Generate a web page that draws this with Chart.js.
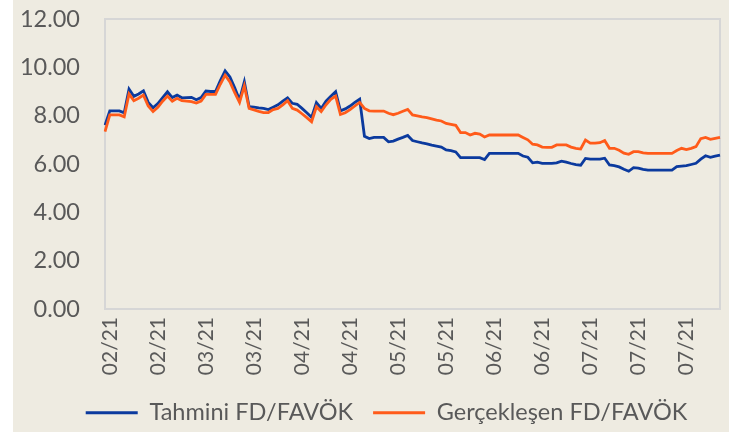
<!DOCTYPE html>
<html>
<head>
<meta charset="utf-8">
<script src="https://cdn.jsdelivr.net/npm/chart.js"></script>
<style>
  html, body { margin: 0; padding: 0; background: #fff; }
  #wrap { width: 746px; height: 432px; position: relative; }
</style>
</head>
<body>
<div id="wrap"><canvas id="oranChart" width="746" height="432"></canvas></div>
<script>
// x ekseni etiketleri (her 10 noktada bir)
const tickLabels = ['02/21', '02/21', '03/21', '03/21', '04/21', '04/21', '05/21',
  '05/21', '06/21', '06/21', '07/21', '07/21', '07/21'];

// Tahmini FD/FAVÖK
const tahmini = [
  7.61, 8.2, 8.2, 8.2, 8.12, 9.1, 8.8, 8.9, 9.03, 8.55,
  8.33, 8.5, 8.75, 8.99, 8.75, 8.85, 8.74, 8.75, 8.76, 8.66,
  8.75, 9.02, 9.0, 9.0, 9.45, 9.85, 9.6, 9.15, 8.65, 9.4,
  8.37, 8.35, 8.32, 8.3, 8.25, 8.35, 8.45, 8.6, 8.74, 8.51,
  8.47, 8.3, 8.12, 7.93, 8.54, 8.3, 8.6, 8.8, 8.99, 8.2,
  8.28, 8.4, 8.55, 8.68, 7.15, 7.05, 7.1, 7.1, 7.1, 6.92,
  6.95, 7.03, 7.1, 7.18, 6.97, 6.92, 6.87, 6.83, 6.78, 6.74,
  6.7, 6.58, 6.55, 6.5, 6.26, 6.26, 6.26, 6.26, 6.26, 6.18,
  6.44, 6.44, 6.44, 6.44, 6.44, 6.44, 6.44, 6.33, 6.28, 6.05,
  6.08, 6.03, 6.03, 6.03, 6.05, 6.12, 6.08, 6.02, 5.97, 5.95,
  6.23, 6.2, 6.2, 6.2, 6.24, 5.96, 5.93, 5.88, 5.78, 5.7,
  5.85, 5.83, 5.78, 5.75, 5.75, 5.75, 5.75, 5.75, 5.75, 5.89,
  5.91, 5.93, 5.98, 6.03, 6.2, 6.34, 6.28, 6.33, 6.37
];

// Gerçekleşen FD/FAVÖK
const gerceklesen = [
  7.34, 8.03, 8.03, 8.03, 7.95, 8.9, 8.62, 8.72, 8.85, 8.4,
  8.17, 8.35, 8.6, 8.81, 8.6, 8.72, 8.62, 8.6, 8.58, 8.52,
  8.6, 8.88, 8.88, 8.88, 9.3, 9.68, 9.4, 8.95, 8.55, 9.23,
  8.3, 8.24, 8.18, 8.13, 8.13, 8.25, 8.3, 8.45, 8.62, 8.3,
  8.23, 8.08, 7.92, 7.75, 8.37, 8.17, 8.45, 8.68, 8.81, 8.05,
  8.12, 8.25, 8.4, 8.55, 8.3, 8.2, 8.19, 8.19, 8.19, 8.1,
  8.04, 8.1, 8.18, 8.26, 8.03, 7.99, 7.95, 7.92, 7.87, 7.82,
  7.78, 7.68, 7.64, 7.6, 7.3, 7.3, 7.2, 7.27, 7.24, 7.12,
  7.2, 7.2, 7.2, 7.2, 7.2, 7.2, 7.2, 7.1, 7.0, 6.82,
  6.79, 6.7, 6.69, 6.69, 6.79, 6.79, 6.79, 6.7, 6.65, 6.62,
  6.99, 6.86, 6.86, 6.88, 6.97, 6.65, 6.65, 6.57, 6.45, 6.4,
  6.51, 6.51, 6.46, 6.44, 6.44, 6.44, 6.44, 6.44, 6.44, 6.56,
  6.65, 6.6, 6.65, 6.72, 7.05, 7.1, 7.02, 7.06, 7.1
];

const yTicks = [0, 2, 4, 6, 8, 10, 12];

// one category per point, only every 10th gets a visible label
const labels = tahmini.map((_, i) => (i - 1) % 10 === 0 ? tickLabels[(i - 1) / 10] : '');

const textColor = '#595959';
const fontFamily = 'Lato, "Open Sans", sans-serif';

// beige panel + light border around plot area
const panelPlugin = {
  id: 'panel',
  afterLayout(chart) {
    // legend sits a bit right of centre in the original
    chart.legend.left += 20;
    chart.legend.right += 20;
  },
  beforeDraw(chart) {
    const c = chart.ctx;
    c.save();
    c.fillStyle = '#ffffff';
    c.fillRect(0, 0, chart.width, chart.height);
    c.fillStyle = '#EEEBE1';
    c.fillRect(13, 0, 716, chart.height);
    c.restore();
  },
  beforeDatasetsDraw(chart) {
    const a = chart.chartArea;
    const c = chart.ctx;
    c.save();
    c.strokeStyle = '#D6D6D6';
    c.lineWidth = 2;
    c.strokeRect(a.left, a.top, a.right - a.left, a.bottom - a.top);
    c.restore();
  }
};

new Chart(document.getElementById('oranChart'), {
  type: 'line',
  data: {
    labels: labels,
    datasets: [
      {
        label: 'Tahmini FD/FAVÖK',
        data: tahmini,
        borderColor: '#0B3A9E',
        backgroundColor: '#0B3A9E',
        borderWidth: 2.8,
        pointRadius: 0,
        tension: 0,
        order: 1
      },
      {
        label: 'Gerçekleşen FD/FAVÖK',
        data: gerceklesen,
        borderColor: '#FF5B1A',
        backgroundColor: '#FF5B1A',
        borderWidth: 2.8,
        pointRadius: 0,
        tension: 0,
        order: 0
      }
    ]
  },
  options: {
    responsive: false,
    animation: false,
    layout: { padding: { left: 13, right: 26, top: 19, bottom: 0 } },
    scales: {
      x: {
        grid: { display: false, drawTicks: false },
        border: { display: false },
        ticks: {
          autoSkip: false,
          minRotation: 90,
          maxRotation: 90,
          padding: 8,
          color: textColor,
          font: { family: fontFamily, size: 21 }
        },
        afterFit(scale) {
          scale.height = 72;
          scale.paddingLeft = 0;
          scale.paddingRight = 0;
        }
      },
      y: {
        min: 0,
        max: 12,
        afterBuildTicks(scale) { scale.ticks = yTicks.map(v => ({ value: v })); },
        grid: { display: false, drawTicks: false },
        border: { display: false },
        ticks: {
          padding: 25,
          color: textColor,
          font: { family: fontFamily, size: 23.5 },
          callback: v => v.toFixed(2)
        },
        afterFit(scale) {
          scale.width = 92;
          scale.paddingTop = 0;
          scale.paddingBottom = 0;
        }
      }
    },
    plugins: {
      legend: {
        position: 'bottom',
        maxHeight: 51,
        labels: {
          usePointStyle: true,
          pointStyle: 'line',
          pointStyleWidth: 52,
          padding: 20,
          color: textColor,
          font: { family: fontFamily, size: 23.5 },
          sort: (a, b) => a.datasetIndex - b.datasetIndex
        }
      },
      tooltip: { enabled: false }
    }
  },
  plugins: [panelPlugin]
});
</script>
</body>
</html>
